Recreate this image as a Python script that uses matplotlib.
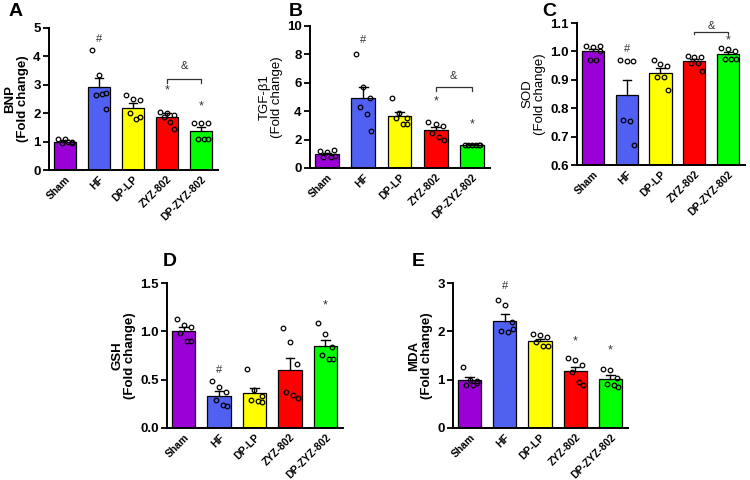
import matplotlib
matplotlib.use("Agg")
import matplotlib.pyplot as plt
import numpy as np

plt.rcParams["font.family"] = ["Liberation Sans", "DejaVu Sans"]

groups = ["Sham", "HF", "DP-LP", "ZYZ-802", "DP-ZYZ-802"]
colors = ["#9b00d6", "#5060f0", "#ffff00", "#ff0000", "#00ff00"]

# BNP
bnp_mean = [1.0, 2.93, 2.2, 1.87, 1.38]
bnp_sem = [0.04, 0.32, 0.15, 0.13, 0.12]
bnp_pts = [[1.08, 1.1, 1.0, 0.95, 0.98, 0.95],
           [4.22, 3.33, 2.72, 2.64, 2.66, 2.15],
           [2.64, 2.5, 2.48, 2.0, 1.8, 1.85],
           [2.05, 2.0, 1.95, 1.85, 1.7, 1.45],
           [1.65, 1.65, 1.65, 1.1, 1.1, 1.1]]

# TGF-b1
tgf_mean = [0.97, 4.9, 3.65, 2.65, 1.62]
tgf_sem = [0.12, 0.8, 0.3, 0.22, 0.04]
tgf_pts = [[1.2, 1.1, 1.25, 0.75, 0.8, 0.85],
           [8.0, 5.7, 4.9, 4.3, 3.8, 2.6],
           [4.9, 3.9, 3.5, 3.5, 3.1, 3.1],
           [3.25, 3.1, 2.95, 2.5, 2.2, 2.0],
           [1.65, 1.6, 1.6, 1.6, 1.65, 1.65]]

# SOD
sod_mean = [1.0, 0.845, 0.925, 0.965, 0.99]
sod_sem = [0.01, 0.055, 0.016, 0.01, 0.007]
sod_pts = [[1.02, 1.015, 1.0, 0.97, 0.97, 1.02],
           [0.97, 0.965, 0.965, 0.76, 0.755, 0.67],
           [0.97, 0.955, 0.95, 0.91, 0.91, 0.865],
           [0.985, 0.98, 0.98, 0.96, 0.96, 0.93],
           [1.012, 1.01, 1.0, 0.975, 0.975, 0.975]]

# GSH
gsh_mean = [1.0, 0.335, 0.365, 0.6, 0.85]
gsh_sem = [0.04, 0.045, 0.05, 0.125, 0.065]
gsh_pts = [[1.13, 1.07, 1.04, 0.98, 0.9, 0.9],
           [0.49, 0.42, 0.37, 0.29, 0.24, 0.23],
           [0.61, 0.39, 0.33, 0.29, 0.28, 0.27],
           [1.03, 0.89, 0.66, 0.37, 0.34, 0.31],
           [1.09, 0.97, 0.84, 0.76, 0.71, 0.71]]

# MDA
mda_mean = [1.0, 2.22, 1.8, 1.17, 1.02]
mda_sem = [0.05, 0.13, 0.05, 0.1, 0.07]
mda_pts = [[1.27, 1.0, 0.98, 0.9, 0.9, 0.93],
           [2.65, 2.55, 2.2, 2.0, 1.98, 2.05],
           [1.95, 1.92, 1.88, 1.78, 1.7, 1.7],
           [1.45, 1.4, 1.3, 1.15, 0.95, 0.9],
           [1.22, 1.2, 1.03, 0.92, 0.9, 0.85]]

offsets = [-0.2, 0.0, 0.2, -0.1, 0.1, 0.22]

W, H = 750, 480
fig = plt.figure(figsize=(7.5, 4.8), dpi=100)


def box(l, r, t, b):
    return [l / W, 1 - b / H, (r - l) / W, (b - t) / H]


def panel(rect, letter, lpos, ylabel, mean, sem, pts, ylim, yticks, fmt, bold=True):
    ax = fig.add_axes(rect)
    x = np.arange(len(groups))
    ax.bar(x, [m - ylim[0] for m in mean], bottom=ylim[0], width=0.66,
           color=colors, edgecolor="black", linewidth=0.9, zorder=2)
    for i in x:
        top = mean[i] + sem[i]
        ax.plot([i, i], [mean[i], top], color="black", lw=1.0, zorder=3)
        ax.plot([i - 0.12, i + 0.12], [top, top], color="black", lw=1.0, zorder=3)
        ax.plot(i + np.array(offsets[:len(pts[i])]), pts[i], "o", ms=3.3,
                mfc="none", mec="black", mew=0.9, zorder=4)
    ax.set_xlim(-0.47, 4.5)
    ax.set_ylim(*ylim)
    ax.set_yticks(yticks)
    ax.set_yticklabels([fmt.format(v) for v in yticks], fontsize=9.5, fontweight="bold")
    ax.set_xticks(x)
    ax.set_xticklabels(groups, rotation=45, ha="right", rotation_mode="anchor",
                       fontsize=7.5, fontweight="bold")
    ax.tick_params(axis="x", length=0, pad=3)
    ax.tick_params(axis="y", length=4, width=1.3, pad=2)
    for s in ["top", "right"]:
        ax.spines[s].set_visible(False)
    for s in ["left", "bottom"]:
        ax.spines[s].set_linewidth(1.4)
    ax.set_ylabel(ylabel, fontsize=9.5, fontweight="bold" if bold else "normal",
                  linespacing=1.05, labelpad=3)
    fig.text(lpos[0] / W, 1 - lpos[1] / H, letter, fontsize=14,
             fontweight="bold", ha="center", va="center")
    return ax


def mark(ax, i, y, s, size=8):
    ax.text(i, y, s, ha="center", va="center", fontsize=size, color="#333333")


def bracket(ax, y, h, ytxt):
    ax.plot([3, 3, 4, 4], [y - h, y, y, y - h], color="#333333", lw=0.9)
    ax.text(3.5, ytxt, "&", ha="center", va="center", fontsize=8, color="#333333")


axA = panel(box(49, 218, 28, 170), "A", (16, 12), "BNP\n(Fold change)", bnp_mean, bnp_sem,
            bnp_pts, (0, 5), [0, 1, 2, 3, 4, 5], "{:g}")
mark(axA, 1, 4.6, "#")
mark(axA, 3, 2.8, "*", 9)
mark(axA, 4, 2.25, "*", 9)
bracket(axA, 3.2, 0.12, 3.65)

axB = panel(box(310, 490, 26, 168), "B", (296, 11), "TGF-β1\n(Fold change)", tgf_mean, tgf_sem,
            tgf_pts, (0, 10), [0, 2, 4, 6, 8, 10], "{:g}", bold=False)
mark(axB, 1, 9.0, "#")
mark(axB, 3, 4.7, "*", 9)
mark(axB, 4, 3.05, "*", 9)
bracket(axB, 5.7, 0.25, 6.5)

axC = panel(box(577, 745, 23, 165), "C", (549, 11), "SOD\n(Fold change)", sod_mean, sod_sem,
            sod_pts, (0.6, 1.1), [0.6, 0.7, 0.8, 0.9, 1.0, 1.1], "{:.1f}", bold=False)
mark(axC, 1, 1.01, "#")
mark(axC, 4, 1.04, "*", 9)
bracket(axC, 1.07, 0.01, 1.09)

axD = panel(box(167, 343, 283, 428), "D", (170, 262), "GSH\n(Fold change)", gsh_mean, gsh_sem,
            gsh_pts, (0, 1.5), [0.0, 0.5, 1.0, 1.5], "{:.1f}")
mark(axD, 1, 0.6, "#")
mark(axD, 4, 1.27, "*", 9)

axE = panel(box(453, 628, 283, 428), "E", (418, 262), "MDA\n(Fold change)", mda_mean, mda_sem,
            mda_pts, (0, 3), [0, 1, 2, 3], "{:g}")
mark(axE, 1, 2.93, "#")
mark(axE, 3, 1.8, "*", 9)
mark(axE, 4, 1.6, "*", 9)

fig.savefig("out.png", dpi=100)
